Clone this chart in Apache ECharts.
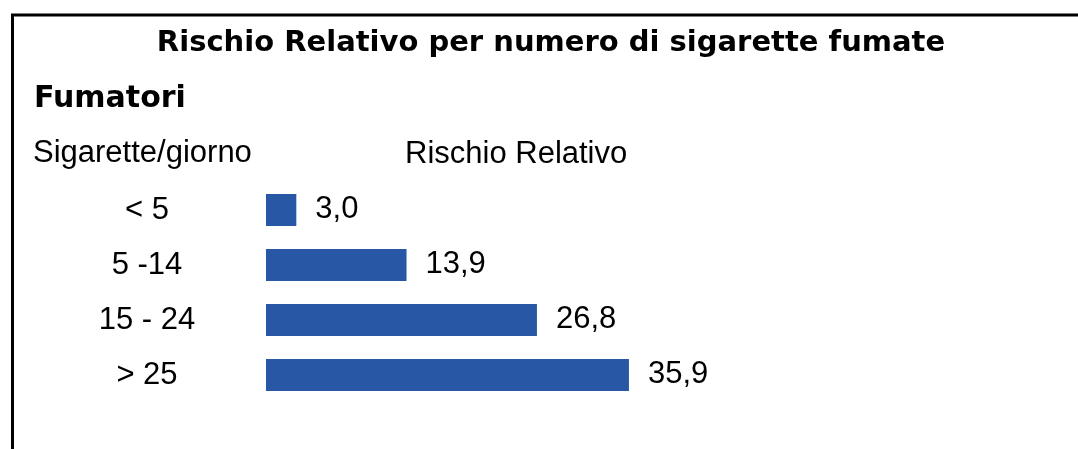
<!DOCTYPE html>
<html>
<head>
<meta charset="utf-8">
<script src="https://cdn.jsdelivr.net/npm/echarts@6/dist/echarts.min.js"></script>
<style>
html,body{margin:0;padding:0;background:#fff;}
#chart{width:1078px;height:449px;}
</style>
</head>
<body>
<div id="chart"></div>
<script>
const titleText = 'Rischio Relativo per numero di sigarette fumate';
const groupText = 'Fumatori';
const categoryHeader = 'Sigarette/giorno';
const valueHeader = 'Rischio Relativo';
const categories = ['< 5', '5 -14', '15 - 24', '> 25'];
const riskValues = [3.0, 13.9, 26.8, 35.9];

const chart = echarts.init(document.getElementById('chart'), null, {renderer: 'canvas'});
const regularFont = '"Liberation Sans", Arial, Helvetica, sans-serif';
const boldFont = '"DejaVu Sans", "Liberation Sans", Arial, sans-serif';

chart.setOption({
  backgroundColor: '#ffffff',
  animation: false,
  grid: {left: 266, right: 407.6, top: 182.5, bottom: 46.5, containLabel: false},
  xAxis: {
    type: 'value', min: 0, max: 40,
    show: false
  },
  yAxis: {
    type: 'category',
    data: categories,
    inverse: true,
    axisLine: {show: false},
    axisTick: {show: false},
    splitLine: {show: false},
    axisLabel: {
      align: 'center',
      margin: 119,
      color: '#000',
      fontSize: 31,
      fontFamily: regularFont,
      padding: [0, 0, -2, 0]
    }
  },
  series: [{
    type: 'bar',
    data: riskValues,
    barWidth: 32,
    itemStyle: {color: '#2858a5'},
    label: {
      show: true,
      position: 'right',
      distance: 19,
      offset: [0, -1],
      color: '#000',
      fontSize: 31,
      fontFamily: regularFont,
      formatter: p => p.value.toFixed(1).replace('.', ',')
    }
  }],
  graphic: [
    {type: 'line', shape: {x1: 11, y1: 15, x2: 1078, y2: 15}, style: {stroke: '#000', lineWidth: 3}},
    {type: 'line', shape: {x1: 12.5, y1: 14, x2: 12.5, y2: 449}, style: {stroke: '#000', lineWidth: 3}},
    {type: 'text', x: 551, y: 43, style: {text: titleText, fill: '#000', font: 'bold 29px ' + boldFont, textAlign: 'center', textVerticalAlign: 'middle'}},
    {type: 'text', x: 34, y: 99, style: {text: groupText, fill: '#000', font: 'bold 30px ' + boldFont, textAlign: 'left', textVerticalAlign: 'middle'}},
    {type: 'text', x: 33, y: 153, style: {text: categoryHeader, fill: '#000', font: '31px ' + regularFont, textAlign: 'left', textVerticalAlign: 'middle'}},
    {type: 'text', x: 405, y: 154, style: {text: valueHeader, fill: '#000', font: '31px ' + regularFont, textAlign: 'left', textVerticalAlign: 'middle'}}
  ]
});
</script>
</body>
</html>
